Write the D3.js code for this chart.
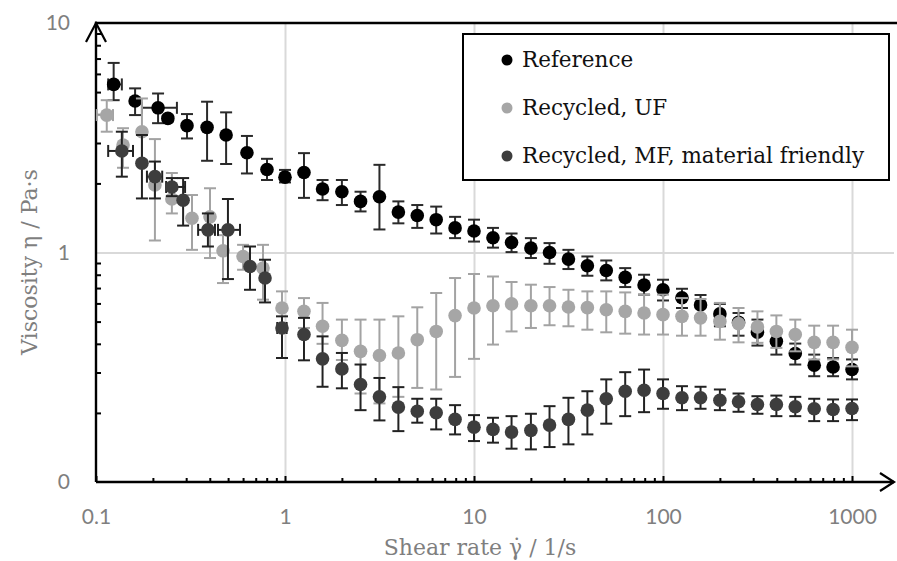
<!DOCTYPE html>
<html>
<head>
<meta charset="utf-8">
<script src="https://cdn.jsdelivr.net/npm/d3@7"></script>
<style>
  body { margin: 0; background: #fff; }
  .tick-lbl text { font-family: Lato, "Open Sans", sans-serif; font-size: 21px; fill: #7f7f7f; }
  .title { font-family: "DejaVu Serif", "Liberation Serif", serif; font-size: 22px; fill: #7f7f7f; }
  .legend text { font-family: "DejaVu Serif", "Liberation Serif", serif; font-size: 21.5px; fill: #111; }
</style>
</head>
<body>
<script>
// ---- data ----
var xTicks = [0.1, 1, 10, 100, 1000],
    xTickLabels = ["0.1", "1", "10", "100", "1000"];
var yTicks = [0.1, 1, 10],
    yTickLabels = ["0", "1", "10"];

var seriesNames = ["Reference", "Recycled, UF", "Recycled, MF, material friendly"];

// Reference
var refRate = [0.124, 0.161, 0.213, 0.240, 0.303, 0.387, 0.488, 0.629, 0.803, 1,
               1.26, 1.58, 2, 2.51, 3.16, 3.98, 5.01, 6.31, 7.94, 10,
               12.6, 15.8, 20, 25.1, 31.6, 39.8, 50.1, 63.1, 79.4, 100,
               126, 158, 200, 251, 316, 398, 501, 631, 794, 1000];
var refEta = [5.40, 4.57, 4.27, 3.84, 3.57, 3.51, 3.25, 2.72, 2.30, 2.13,
              2.23, 1.89, 1.84, 1.67, 1.75, 1.50, 1.45, 1.39, 1.28, 1.24,
              1.16, 1.105, 1.045, 1.00, 0.936, 0.875, 0.835, 0.779, 0.721, 0.688,
              0.635, 0.591, 0.540, 0.496, 0.449, 0.410, 0.363, 0.323, 0.317, 0.309];
var refHi = [6.70, 5.19, 4.93, 3.95, 4.01, 4.54, 4.08, 3.22, 2.56, 2.29,
             2.71, 2.07, 2.07, 1.84, 2.41, 1.67, 1.61, 1.585, 1.43, 1.39,
             1.28, 1.21, 1.155, 1.099, 1.027, 0.961, 0.923, 0.855, 0.800, 0.761,
             0.695, 0.653, 0.597, 0.545, 0.510, 0.453, 0.401, 0.359, 0.347, 0.342];
var refLo = [4.61, 3.97, 3.66, 3.72, 3.14, 2.51, 2.43, 2.21, 2.07, 2.02,
             1.73, 1.69, 1.61, 1.51, 1.26, 1.34, 1.28, 1.21, 1.155, 1.116,
             1.05, 1.004, 0.946, 0.893, 0.847, 0.792, 0.756, 0.707, 0.655, 0.618,
             0.573, 0.527, 0.477, 0.434, 0.393, 0.359, 0.325, 0.289, 0.289, 0.280];
var refXErr = [[0, 0.116, 0.137], [2, 0.175, 0.268]];   // [index, low, high]

// Recycled, UF
var ufRate = [0.114, 0.139, 0.175, 0.205, 0.252, 0.322, 0.401, 0.47, 0.60, 0.765, 0.964,
              1.26, 1.58, 2, 2.51, 3.16, 3.98, 5.01, 6.31, 7.94, 10,
              12.6, 15.8, 20, 25.1, 31.6, 39.8, 50.1, 63.1, 79.4, 100,
              126, 158, 200, 251, 316, 398, 501, 631, 794, 1000];
var ufEta = [3.97, 2.94, 3.36, 1.97, 1.71, 1.41, 1.43, 1.017, 0.961, 0.855, 0.573,
             0.554, 0.477, 0.414, 0.371, 0.356, 0.365, 0.417, 0.453, 0.531, 0.573,
             0.586, 0.597, 0.586, 0.586, 0.579, 0.575, 0.563, 0.554, 0.545, 0.536,
             0.527, 0.519, 0.501, 0.490, 0.474, 0.453, 0.439, 0.406, 0.406, 0.386];
var ufHi = [4.61, 3.48, 4.69, 3.12, 2.22, 1.78, 1.905, 1.19, 1.08, 1.08, 0.677,
            0.633, 0.603, 0.510, 0.510, 0.510, 0.527, 0.577, 0.666, 0.774, 0.806,
            0.786, 0.744, 0.724, 0.707, 0.688, 0.677, 0.677, 0.670, 0.655, 0.655,
            0.633, 0.627, 0.603, 0.573, 0.554, 0.532, 0.510, 0.480, 0.480, 0.461];
var ufLo = [3.36, 2.34, 2.53, 1.128, 1.48, 1.027, 0.946, 0.736, 0.841, 0.623, 0.461,
            0.469, 0.40, 0.34, 0.243, 0.22, 0.235, 0.257, 0.253, 0.287, 0.344,
            0.397, 0.453, 0.469, 0.482, 0.477, 0.461, 0.449, 0.443, 0.439, 0.439,
            0.434, 0.434, 0.417, 0.406, 0.404, 0.384, 0.371, 0.342, 0.342, 0.319];
var ufXErr = [[0, 0.101, 0.123]];

// Recycled, MF, material friendly
var mfRate = [0.137, 0.175, 0.205, 0.252, 0.289, 0.391, 0.499, 0.653, 0.784, 0.964,
              1.26, 1.58, 2, 2.51, 3.16, 3.98, 5.01, 6.31, 7.94, 10,
              12.6, 15.8, 20, 25.1, 31.6, 39.8, 50.1, 63.1, 79.4, 100,
              126, 158, 200, 251, 316, 398, 501, 631, 794, 1000];
var mfEta = [2.77, 2.45, 2.14, 1.93, 1.69, 1.255, 1.255, 0.869, 0.774, 0.469,
             0.439, 0.344, 0.311, 0.266, 0.235, 0.212, 0.2035, 0.2003, 0.1874, 0.1734,
             0.1695, 0.165, 0.1678, 0.177, 0.1874, 0.2056, 0.2305, 0.2486, 0.2512, 0.243,
             0.2328, 0.2328, 0.2272, 0.2236, 0.2177, 0.2177, 0.2128, 0.2085, 0.207, 0.2091];
var mfHi = [3.36, 3.25, 2.49, 2.11, 2.11, 1.48, 1.71, 1.062, 0.93, 0.527,
            0.519, 0.431, 0.365, 0.325, 0.284, 0.259, 0.2305, 0.2305, 0.2162, 0.1956,
            0.1905, 0.1936, 0.1983, 0.214, 0.2328, 0.2486, 0.280, 0.301, 0.309, 0.280,
            0.2615, 0.260, 0.253, 0.243, 0.2365, 0.238, 0.235, 0.2305, 0.2289, 0.2289];
var mfLo = [2.14, 1.72, 1.72, 1.76, 1.31, 1.062, 0.766, 0.688, 0.606, 0.347,
            0.339, 0.260, 0.256, 0.2056, 0.1855, 0.1666, 0.1813, 0.1695, 0.1612, 0.1508,
            0.1484, 0.1397, 0.1387, 0.142, 0.1459, 0.1612, 0.1795, 0.1936, 0.2015, 0.2085,
            0.2056, 0.2085, 0.2056, 0.2023, 0.1983, 0.1936, 0.1936, 0.1842, 0.1842, 0.186];
var mfXErr = [[0, 0.116, 0.157], [2, 0.186, 0.224], [3, 0.235, 0.296],
              [5, 0.347, 0.426], [6, 0.442, 0.578], [9, 0.91, 1.02]];

// ---- layout ----
var width = 897, height = 561;
var x = d3.scaleLog().domain([0.1, 1000]).range([96, 852]),
    y = d3.scaleLog().domain([0.1, 10]).range([482, 23]);
var xEnd = 894;                // axis arrow runs past the 1000 tick
var x0 = x.range()[0], yB = y.range()[0], yT = y.range()[1];

var series = [
  {name: seriesNames[0], rate: refRate, eta: refEta, hi: refHi, lo: refLo, xerr: refXErr, fill: "#000000", bar: "#2a2a2a"},
  {name: seriesNames[1], rate: ufRate, eta: ufEta, hi: ufHi, lo: ufLo, xerr: ufXErr, fill: "#a6a6a6", bar: "#a3a3a3"},
  {name: seriesNames[2], rate: mfRate, eta: mfEta, hi: mfHi, lo: mfLo, xerr: mfXErr, fill: "#3d3d3d", bar: "#222222"}
];

var svg = d3.select("body").append("svg")
    .attr("width", width)
    .attr("height", height);

// minor tick positions (2..9 in each decade)
var xMinor = [], yMinor = [];
[0.1, 1, 10, 100].forEach(function(d) { for (var k = 2; k < 10; k++) xMinor.push(d * k); });
[0.1, 1].forEach(function(d) { for (var k = 2; k < 10; k++) yMinor.push(d * k); });

// gridlines
var gx = svg.append("g")
    .attr("transform", "translate(0," + yB + ")")
    .call(d3.axisBottom(x).tickValues([1, 10, 100, 1000]).tickSize(-(yB - yT)).tickFormat(""));
var gy = svg.append("g")
    .attr("transform", "translate(" + x0 + ",0)")
    .call(d3.axisLeft(y).tickValues([1]).tickSize(-(xEnd - x0)).tickFormat(""));
svg.selectAll(".domain").remove();
gx.selectAll("line").attr("stroke", "#d9d9d9").attr("stroke-width", 2);
gy.selectAll("line").attr("stroke", "#d9d9d9").attr("stroke-width", 2);

// minor + major ticks (pointing inward)
var tx = svg.append("g")
    .attr("transform", "translate(0," + yB + ")")
    .call(d3.axisBottom(x).tickValues(xMinor).tickSize(-4).tickFormat(""));
var tx2 = svg.append("g")
    .attr("transform", "translate(0," + yB + ")")
    .call(d3.axisBottom(x).tickValues(xTicks).tickSize(-6).tickFormat(""));
var ty = svg.append("g")
    .attr("transform", "translate(" + x0 + ",0)")
    .call(d3.axisLeft(y).tickValues(yMinor).tickSize(-5).tickFormat(""));
[tx, tx2, ty].forEach(function(g) {
  g.select(".domain").remove();
  g.selectAll("line").attr("stroke", "#000").attr("stroke-width", 2);
});

// axis lines, top border and arrow heads
svg.append("path")
    .attr("d", "M" + x0 + "," + yB + "V" + yT + "H" + (xEnd + 3) +
               "M" + x0 + "," + yB + "H" + xEnd)
    .attr("fill", "none").attr("stroke", "#000").attr("stroke-width", 2.4);
svg.append("path")
    .attr("d", "M" + (x0 - 10) + "," + (yT + 19) + "L" + x0 + "," + yT + "L" + (x0 + 10) + "," + (yT + 19) +
               "M" + (xEnd - 14) + "," + (yB - 9) + "L" + xEnd + "," + yB + "L" + (xEnd - 14) + "," + (yB + 9))
    .attr("fill", "none").attr("stroke", "#000").attr("stroke-width", 2.2);

// tick labels
var lx = svg.append("g")
    .attr("class", "tick-lbl")
    .attr("transform", "translate(0," + yB + ")")
    .call(d3.axisBottom(x).tickValues(xTicks).tickSize(0).tickPadding(27)
      .tickFormat(function(d, i) { return xTickLabels[i]; }));
var ly = svg.append("g")
    .attr("class", "tick-lbl")
    .attr("transform", "translate(" + x0 + ",0)")
    .call(d3.axisLeft(y).tickValues(yTicks).tickSize(0).tickPadding(26)
      .tickFormat(function(d, i) { return yTickLabels[i]; }));
[lx, ly].forEach(function(g) {
  g.select(".domain").remove();
  g.attr("font-family", null).attr("font-size", null);
  g.selectAll("text").attr("fill", null);
});

// axis titles
svg.append("text")
    .attr("class", "title")
    .attr("x", 480)
    .attr("y", 555)
    .attr("text-anchor", "middle")
    .text("Shear rate \u03b3\u0307 / 1/s");
svg.append("text")
    .attr("class", "title")
    .attr("transform", "translate(37,262) rotate(-90)")
    .attr("text-anchor", "middle")
    .text("Viscosity \u03b7 / Pa\u00b7s");

// error bars and points
var cap = 6;
series.forEach(function(s) {
  var g = svg.append("g");
  var idx = d3.range(s.rate.length);

  var bars = g.selectAll(".ebar")
      .data(idx)
    .enter().append("g")
      .attr("stroke", s.bar)
      .attr("stroke-width", 2);
  bars.append("line")
      .attr("x1", function(i) { return x(s.rate[i]); })
      .attr("x2", function(i) { return x(s.rate[i]); })
      .attr("y1", function(i) { return y(s.lo[i]); })
      .attr("y2", function(i) { return y(s.hi[i]); });
  bars.append("line")
      .attr("x1", function(i) { return x(s.rate[i]) - cap; })
      .attr("x2", function(i) { return x(s.rate[i]) + cap; })
      .attr("y1", function(i) { return y(s.hi[i]); })
      .attr("y2", function(i) { return y(s.hi[i]); });
  bars.append("line")
      .attr("x1", function(i) { return x(s.rate[i]) - cap; })
      .attr("x2", function(i) { return x(s.rate[i]) + cap; })
      .attr("y1", function(i) { return y(s.lo[i]); })
      .attr("y2", function(i) { return y(s.lo[i]); });

  // horizontal error bars
  var hb = g.selectAll(".hbar")
      .data(s.xerr)
    .enter().append("g")
      .attr("stroke", s.bar)
      .attr("stroke-width", 2);
  hb.append("line")
      .attr("x1", function(d) { return x(d[1]); })
      .attr("x2", function(d) { return x(d[2]); })
      .attr("y1", function(d) { return y(s.eta[d[0]]); })
      .attr("y2", function(d) { return y(s.eta[d[0]]); });
  [1, 2].forEach(function(k) {
    hb.append("line")
        .attr("x1", function(d) { return x(d[k]); })
        .attr("x2", function(d) { return x(d[k]); })
        .attr("y1", function(d) { return y(s.eta[d[0]]) - cap; })
        .attr("y2", function(d) { return y(s.eta[d[0]]) + cap; });
  });

  g.selectAll(".dot")
      .data(idx)
    .enter().append("circle")
      .attr("class", "dot")
      .attr("r", 6.8)
      .attr("cx", function(i) { return x(s.rate[i]); })
      .attr("cy", function(i) { return y(s.eta[i]); })
      .style("fill", s.fill);
});

// legend
var lg = svg.append("g").attr("class", "legend");
lg.append("rect")
    .attr("x", 463).attr("y", 34)
    .attr("width", 426).attr("height", 146)
    .attr("fill", "#fff").attr("stroke", "#000").attr("stroke-width", 2);
var item = lg.selectAll(".item")
    .data(series)
  .enter().append("g")
    .attr("class", "item")
    .attr("transform", function(d, i) { return "translate(507," + (60 + i * 48) + ")"; });
item.append("circle")
    .attr("r", 5.5)
    .style("fill", function(d) { return d.fill; });
item.append("text")
    .attr("x", 15)
    .attr("y", 7)
    .text(function(d) { return d.name; });
</script>
</body>
</html>
